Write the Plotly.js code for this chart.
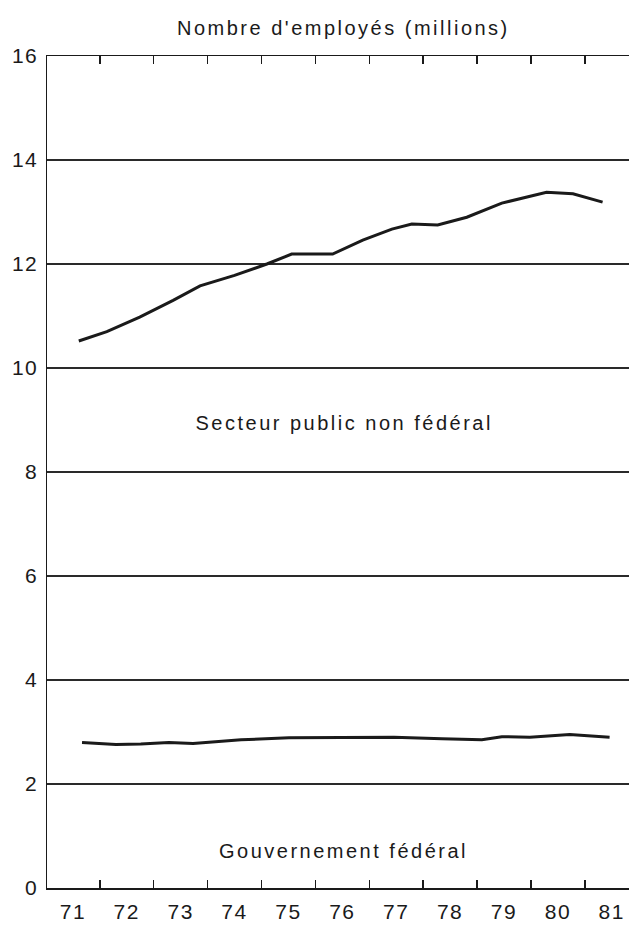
<!DOCTYPE html>
<html>
<head>
<meta charset="utf-8">
<script src="https://cdn.plot.ly/plotly-3.0.1.min.js"></script>
<style>
html,body{margin:0;padding:0;background:#fff;}
#chart{width:629px;height:925px;}
#chart .annotation-text{letter-spacing:2.5px;}
#chart .xtick text,#chart .ytick text{letter-spacing:1.5px;}
</style>
</head>
<body>
<div id="chart"></div>
<script>
// Secteur public non fédéral (millions)
const publicYears = [71.11, 71.63, 72.24, 72.86, 73.36, 74.0, 74.6, 75.06, 75.82, 76.38, 76.92, 77.29, 77.77, 78.31, 78.96, 79.29, 79.79, 80.28, 80.83];
const publicValues = [10.52, 10.70, 10.98, 11.30, 11.58, 11.78, 12.0, 12.19, 12.19, 12.46, 12.67, 12.77, 12.75, 12.9, 13.17, 13.25, 13.38, 13.35, 13.19];
// Gouvernement fédéral (millions)
const fedYears = [71.17, 71.43, 71.80, 72.26, 72.78, 73.23, 73.52, 74.12, 75.01, 75.97, 76.96, 77.85, 78.59, 78.96, 79.48, 80.22, 80.96];
const fedValues = [2.80, 2.78, 2.76, 2.77, 2.80, 2.78, 2.80, 2.85, 2.89, 2.89, 2.90, 2.87, 2.85, 2.91, 2.90, 2.95, 2.90];

const yearTicks = [71, 72, 73, 74, 75, 76, 77, 78, 79, 80, 81];
const yearLabels = ["71", "72", "73", "74", "75", "76", "77", "78", "79", "80", "81"];
const boundaryTicks = [71.5, 72.5, 73.5, 74.5, 75.5, 76.5, 77.5, 78.5, 79.5, 80.5];
const yTicks = [0, 2, 4, 6, 8, 10, 12, 14, 16];

const FONT = "Liberation Sans, Arial, Helvetica, sans-serif";
const INK = "#1a1a1a";
const xRange = [70.52, 81.32];

const traces = [
  {x: publicYears, y: publicValues, type: "scatter", mode: "lines",
   line: {color: INK, width: 3}, xaxis: "x", yaxis: "y", hoverinfo: "skip"},
  {x: fedYears, y: fedValues, type: "scatter", mode: "lines",
   line: {color: INK, width: 3}, xaxis: "x2", yaxis: "y", hoverinfo: "skip"}
];

const layout = {
  width: 629, height: 925,
  margin: {l: 47, r: 0, t: 56, b: 37},
  paper_bgcolor: "#fff", plot_bgcolor: "#fff",
  showlegend: false,
  font: {family: FONT, color: INK, size: 20},
  xaxis: {
    range: xRange, tickmode: "array", tickvals: yearTicks, ticktext: yearLabels,
    ticks: "", showgrid: false, zeroline: false, showline: true, linecolor: INK, linewidth: 1.5,
    tickfont: {family: FONT, size: 21, color: INK}, ticklabelstandoff: 4, fixedrange: true
  },
  xaxis2: {
    range: xRange, overlaying: "x", side: "bottom", tickmode: "array", tickvals: boundaryTicks,
    ticks: "inside", ticklen: 8, tickwidth: 1.5, tickcolor: INK, showticklabels: false,
    showgrid: false, zeroline: false, showline: true, linecolor: INK, linewidth: 1.5, mirror: "ticks",
    fixedrange: true
  },
  yaxis: {
    range: [0, 16], tickmode: "array", tickvals: yTicks, ticks: "",
    showgrid: true, gridcolor: "#2a2a2a", gridwidth: 1.3, zeroline: false,
    showline: true, linecolor: INK, linewidth: 1.5,
    tickfont: {family: FONT, size: 21, color: INK}, ticklabelstandoff: 3, fixedrange: true
  },
  annotations: [
    {text: "Nombre d'employés (millions)", xref: "paper", yref: "paper", x: 0.51, y: 1, yshift: 28,
     showarrow: false, font: {family: FONT, size: 20, color: INK}, xanchor: "center", yanchor: "middle"},
    {text: "Secteur public non fédéral", xref: "paper", yref: "y", x: 0.51, y: 8.94,
     showarrow: false, font: {family: FONT, size: 20, color: INK}, xanchor: "center", yanchor: "middle"},
    {text: "Gouvernement fédéral", xref: "paper", yref: "y", x: 0.51, y: 0.72,
     showarrow: false, font: {family: FONT, size: 20, color: INK}, xanchor: "center", yanchor: "middle"}
  ]
};

Plotly.newPlot("chart", traces, layout, {displayModeBar: false, staticPlot: true});
</script>
</body>
</html>
